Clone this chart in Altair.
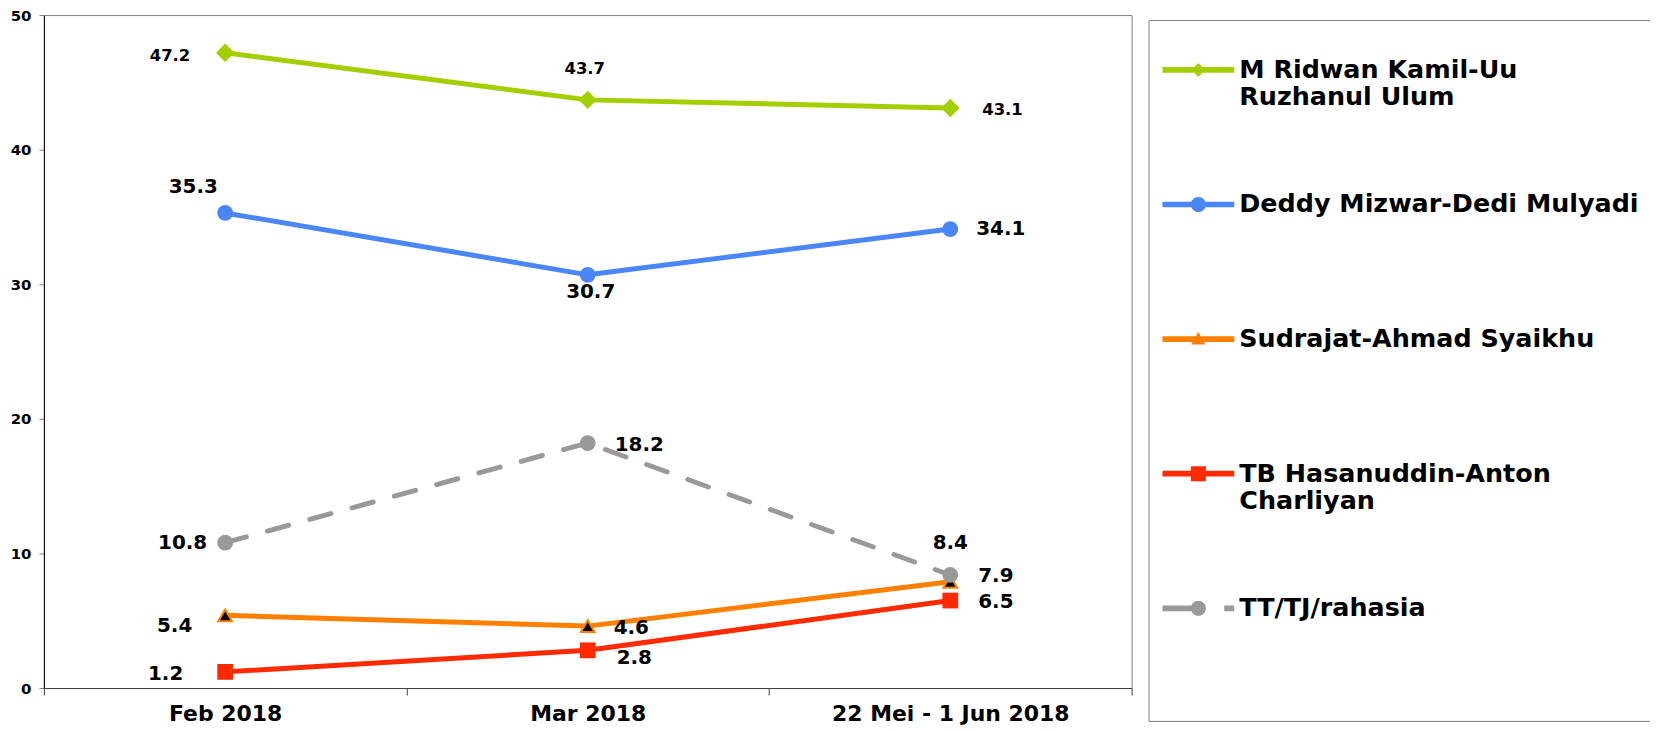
import altair as alt
import pandas as pd

# ---------------- data ----------------
periods = ["Feb 2018", "Mar 2018", "22 Mei - 1 Jun 2018"]
series = [
    "M Ridwan Kamil-Uu Ruzhanul Ulum",
    "Deddy Mizwar-Dedi Mulyadi",
    "Sudrajat-Ahmad Syaikhu",
    "TB Hasanuddin-Anton Charliyan",
    "TT/TJ/rahasia",
]
ridwan = [47.2, 43.7, 43.1]
deddy = [35.3, 30.7, 34.1]
sudrajat = [5.4, 4.6, 7.9]
tb = [1.2, 2.8, 6.5]
tt = [10.8, 18.2, 8.4]
values = [ridwan, deddy, sudrajat, tb, tt]

# ---------------- styling ----------------
colors = ["#a3cf00", "#4a86f8", "#ff8000", "#ff2a00", "#999999"]
FONT = "DejaVu Sans"

# label placement per point: (align, dx, dy)
label_style = {
    series[0]: [("right", -35, 3), ("center", -3, -31), ("left", 32, 2)],
    series[1]: [("center", -32, -26), ("center", 3, 17), ("left", 26, 0)],
    series[2]: [("right", -33, 11), ("left", 26, 2), ("left", 28, -6)],
    series[3]: [("right", -42, 2), ("left", 29, 8), ("left", 28, 1)],
    series[4]: [("right", -18, 0), ("left", 27, 2), ("center", 0, -32)],
}
label_size = {series[0]: 16.5}

# legend symbols: line + marker (custom SVG paths, unit = half symbol width)
def circ(cx, cy, r):
    return (f"M{cx - r},{cy}A{r},{r} 0 1,1 {cx + r},{cy}"
            f"A{r},{r} 0 1,1 {cx - r},{cy}Z")

def seg(x0, x1, cy=0, h=0.08):
    return f"M{x0},{cy - h}H{x1}V{cy + h}H{x0}Z"

legend_paths = [
    seg(-1, 1) + "M0,-0.19L0.19,0L0,0.19L-0.19,0Z",
    seg(-1, 1) + circ(0, 0, 0.21),
    seg(-1, 1) + "M0,-0.2L0.2,0.15L-0.2,0.15Z",
    seg(-1, 1) + "M-0.21,-0.21H0.21V0.21H-0.21Z",
    seg(-1, -0.2) + circ(0, 0, 0.21) + seg(0.72, 1),
]
label_breaks = {
    series[0]: ["M Ridwan Kamil-Uu", "Ruzhanul Ulum"],
    series[3]: ["TB Hasanuddin-Anton", "Charliyan"],
}
label_expr = ""
for k, v in label_breaks.items():
    label_expr += f"datum.label == '{k}' ? ['{v[0]}', '{v[1]}'] : "
label_expr += "[datum.label, '']"

rows = []
for s, vals in zip(series, values):
    for i, (p, v) in enumerate(zip(periods, vals)):
        a, dx, dy = label_style[s][i]
        rows.append({"series": s, "period": p, "value": v, "label": f"{v:.1f}",
                     "align": a, "dx": dx, "dy": dy,
                     "fs": label_size.get(s, 20)})
df = pd.DataFrame(rows)

x_enc = alt.X(
    "period:O",
    sort=periods,
    bandPosition=0.5,
    scale=alt.Scale(type="band", domain=periods, paddingInner=0, paddingOuter=0),
    axis=alt.Axis(title=None, labelAngle=0, tickBand="extent", labelFontSize=22,
                  labelFont=FONT, labelFontWeight="bold", labelColor="black",
                  labelLimit=500, tickSize=7, labelPadding=9, domainColor="#404040",
                  tickColor="#404040", grid=False),
)
y_enc = alt.Y(
    "value:Q",
    scale=alt.Scale(domain=[0, 50], nice=False),
    axis=alt.Axis(title=None, values=[0, 10, 20, 30, 40, 50], labelFontSize=15,
                  labelFont=FONT, labelFontWeight="bold", labelColor="black",
                  tickSize=5, labelPadding=8, domainColor="black",
                  tickColor="#808080", grid=False),
)

base = alt.Chart(df)

line_layers = []
for s, c in zip(series, colors):
    extra = {"strokeDash": [22, 22]} if s == series[4] else {}
    line_layers.append(
        base.transform_filter(alt.datum.series == s)
        .mark_line(strokeWidth=5, strokeCap="round", strokeJoin="round",
                   color=c, **extra)
        .encode(x=x_enc, y=y_enc)
    )

marker_specs = [
    dict(shape="diamond", size=340, filled=True, color=colors[0]),
    dict(shape="circle", size=250, filled=True, color=colors[1]),
    dict(shape="triangle-up", size=190, filled=True, fill="black",
         stroke=colors[2], strokeWidth=2),
    dict(shape="square", size=250, filled=True, color=colors[3]),
    dict(shape="circle", size=250, filled=True, color=colors[4]),
]
marker_layers = []
for s, spec in zip(series, marker_specs):
    marker_layers.append(
        base.transform_filter(alt.datum.series == s)
        .mark_point(opacity=1, **spec)
        .encode(x=x_enc, y=y_enc)
    )

labels = base.mark_text(
    font=FONT, fontWeight="bold", color="black", baseline="middle",
    align=alt.expr("datum.align"), dx=alt.expr("datum.dx"), dy=alt.expr("datum.dy"),
    fontSize=alt.expr("datum.fs"),
).encode(x=x_enc, y=y_enc, text="label:N")

legend_def = alt.Legend(
    title=" ", titleOrient="bottom", titleFontSize=10, titlePadding=48,
    orient="none", legendX=1108, legendY=5,
    padding=14, rowPadding=58, symbolSize=5184, symbolStrokeWidth=0,
    symbolOpacity=1, labelFontSize=25.5, labelFont=FONT, labelFontWeight="bold",
    labelColor="black", labelOffset=5, labelLimit=600, labelExpr=label_expr,
    strokeColor="#808080", fillColor="white",
)
legend_layer = base.mark_point(
    filled=True, size=5184, opacity=0
).encode(
    x=x_enc, y=y_enc,
    color=alt.Color("series:N", scale=alt.Scale(domain=series, range=colors),
                    legend=legend_def, sort=series),
    shape=alt.Shape("series:N", scale=alt.Scale(domain=series, range=legend_paths),
                    legend=legend_def, sort=series),
)

chart = alt.layer(*line_layers, *marker_layers, labels, legend_layer).properties(
    width=1091, height=675,
    autosize=alt.AutoSizeParams(type="none"),
    padding={"left": 36, "top": 6, "right": 520, "bottom": 40},
).configure_view(stroke="#808080", strokeWidth=1)

chart.save("out.html", embed_options={"renderer": "svg", "actions": False})
